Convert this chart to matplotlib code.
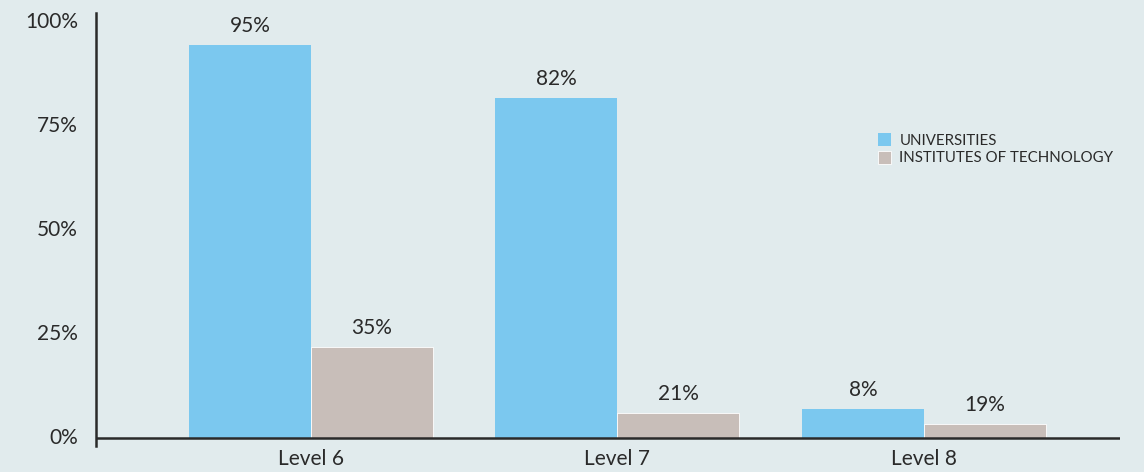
import matplotlib.pyplot as plt
import matplotlib.transforms as mtransforms
import numpy as np

# data
levels = ['Level 6', 'Level 7', 'Level 8']
series = ['UNIVERSITIES', 'INSTITUTES OF TECHNOLOGY']
# drawn bar heights (as they appear on the axis)
univ_height = [94.5, 81.7, 7.0]
iot_height = [21.9, 6.0, 3.4]
# printed value labels
univ_label = ['95%', '82%', '8%']
iot_label = ['35%', '21%', '19%']
yticks = [0, 25, 50, 75, 100]
ytick_labels = ['0%', '25%', '50%', '75%', '100%']

bg = '#e1ebed'
blue = '#7bc8ef'
grey = '#c8beb9'
ink = '#2a2a2a'

plt.rcParams['font.family'] = ['Lato', 'DejaVu Sans']

fig = plt.figure(figsize=(11.44, 4.72), dpi=100, facecolor=bg)
ax = fig.add_axes([0.0839, 0.0551, 0.979 - 0.0839, 0.9725 - 0.0551])
ax.set_facecolor(bg)

x = np.arange(len(levels))
w = 0.398
b1 = ax.bar(x - w/2, univ_height, w, color=blue, label=series[0], zorder=2)
b2 = ax.bar(x + w/2, iot_height, w, color=grey, label=series[1],
            edgecolor='white', linewidth=0.6, zorder=2)

for bars, labs in ((b1, univ_label), (b2, iot_label)):
  for r, t in zip(bars, labs):
    ax.annotate(t, (r.get_x() + r.get_width()/2, r.get_height()),
                xytext=(0, 14), textcoords='offset points',
                ha='center', va='center', fontsize=15, color=ink)

ax.set_xlim(-0.701, 2.640)
ax.set_ylim(-1.9, 102.2)
ax.axhline(0, color=ink, lw=1.8, zorder=3)

for s in ['top', 'right', 'bottom']:
  ax.spines[s].set_visible(False)
ax.spines['left'].set_color(ink)
ax.spines['left'].set_linewidth(1.8)

ax.set_xticks(x)
ax.set_xticklabels(levels, fontsize=15, color=ink)
ax.set_yticks(yticks)
ax.set_yticklabels(ytick_labels, fontsize=15, color=ink)
ax.tick_params(axis='x', length=0, pad=2)
ax.tick_params(axis='y', length=0, pad=13)
shift = mtransforms.ScaledTranslation(0, 1.5/72, fig.dpi_scale_trans)
for lab in ax.get_yticklabels():
  lab.set_transform(lab.get_transform() + shift)

ax.legend(loc='upper left', bbox_to_anchor=(0.756, 0.74), frameon=False,
          fontsize=10.8, handlelength=0.9, handleheight=0.95,
          handletextpad=0.55, labelspacing=0.2, borderpad=0,
          labelcolor=ink)

plt.savefig('out.png', dpi=100, facecolor=bg)
